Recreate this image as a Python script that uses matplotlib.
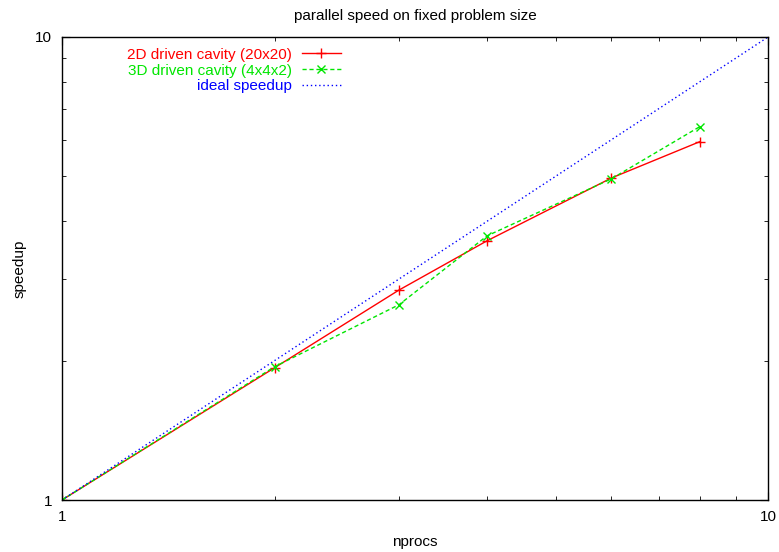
import matplotlib.pyplot as plt
from matplotlib.ticker import LogLocator, NullFormatter, FixedLocator, FixedFormatter

nprocs = [1, 2, 3, 4, 6, 8]
speedup_2d = [1.0, 1.93, 2.84, 3.63, 4.96, 5.94]
speedup_3d = [1.0, 1.94, 2.64, 3.72, 4.94, 6.40]
ideal_x = [1, 10]
ideal_y = [1, 10]

plt.rcParams['font.family'] = ['Liberation Sans', 'DejaVu Sans']

fig = plt.figure(figsize=(7.79, 5.52), dpi=100)
ax = fig.add_axes([0.0796, 0.0942, 0.9064, 0.8388])

ax.plot(nprocs, speedup_2d, color='#ff0000', lw=1, marker='+', ms=7, mew=1,
        label='2D driven cavity (20x20)')
ax.plot(nprocs, speedup_3d, color='#00e600', lw=1, ls=(0, (3, 2)), marker='x', ms=6, mew=1,
        label='3D driven cavity (4x4x2)')
ax.plot(ideal_x, ideal_y, color='#0000ff', lw=1, ls=(0, (1, 2)),
        label='ideal speedup')

ax.set_xscale('log')
ax.set_yscale('log')
ax.set_xlim(1, 10)
ax.set_ylim(1, 10)

for axis in (ax.xaxis, ax.yaxis):
    axis.set_major_locator(FixedLocator([1, 10]))
    axis.set_major_formatter(FixedFormatter(['1', '10']))
    axis.set_minor_locator(LogLocator(base=10, subs=range(2, 10)))
    axis.set_minor_formatter(NullFormatter())

ax.tick_params(which='both', direction='in', top=True, right=True, labelsize=11)
ax.tick_params(which='major', length=6, pad=7)
ax.tick_params(which='minor', length=3)
for s in ax.spines.values():
    s.set_linewidth(1)

ax.set_title('parallel speed on fixed problem size', fontsize=11, pad=12)
ax.set_xlabel('nprocs', fontsize=11, labelpad=8)
ax.set_ylabel('speedup', fontsize=11, labelpad=6)

ax.legend(loc='upper left', bbox_to_anchor=(0.083, 0.99), borderaxespad=0, frameon=False,
          markerfirst=False, labelcolor='linecolor', fontsize=11, handlelength=2.6,
          handletextpad=0.65, labelspacing=0.12, alignment='right')

fig.savefig('out.png', dpi=100)
